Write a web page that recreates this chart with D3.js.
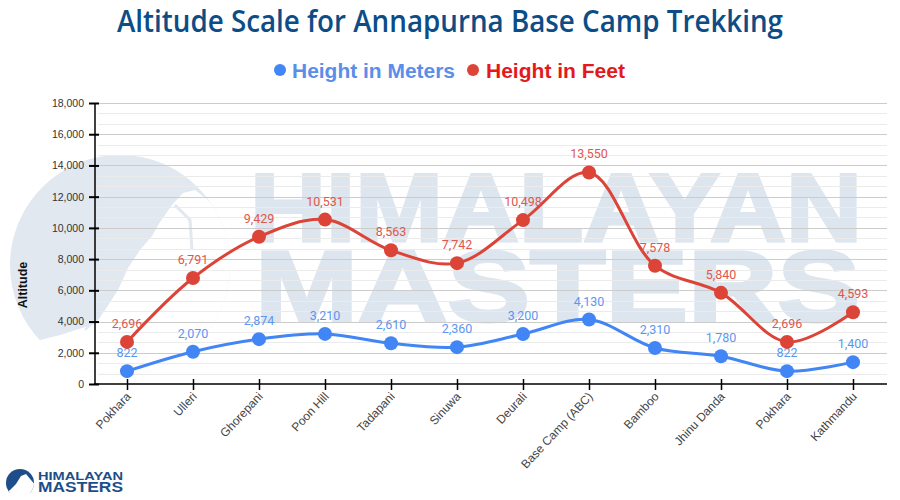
<!DOCTYPE html>
<html>
<head>
<meta charset="utf-8">
<script src="https://cdn.jsdelivr.net/npm/d3@7"></script>
<style>
html,body{margin:0;padding:0;background:#fff;}
svg{display:block;}
</style>
</head>
<body>
<svg id="chart" width="900" height="500"></svg>
<script>
const categories = ["Pokhara","Ulleri","Ghorepani","Poon Hill","Tadapani","Sinuwa","Deurali","Base Camp (ABC)","Bamboo","Jhinu Danda","Pokhara","Kathmandu"];
const meters = [822,2070,2874,3210,2610,2360,3200,4130,2310,1780,822,1400];
const feet = [2696,6791,9429,10531,8563,7742,10498,13550,7578,5840,2696,4593];
const yTicks = [0,2000,4000,6000,8000,10000,12000,14000,16000,18000];
const seriesNames = ["Height in Meters","Height in Feet"];

const svg = d3.select("#chart");
const pL = 94, pR = 886, pT = 103, pB = 384;

const x = d3.scalePoint().domain(d3.range(categories.length)).range([pL, pR]).padding(0.5);
const y = d3.scaleLinear().domain([0, 18000]).range([pB, pT]);
const defs = svg.append("defs");

// watermark circle logo
const wm = svg.append("g");
defs.append("clipPath").attr("id","wmclip").append("circle").attr("cx",120).attr("cy",265).attr("r",110);
const wg = wm.append("g").attr("clip-path","url(#wmclip)");
wg.append("rect").attr("x",0).attr("y",150).attr("width",240).attr("height",240).attr("fill","#e1e8f0");
wg.append("path")
  .attr("d","M0,360 L20,345 L60,335 L95,324 L105,310 L118,290 L128,268 L140,250 L152,236 L160,222 L172,205 L183,193 L195,190 L208,200 L222,215 L240,232 L240,400 L0,400 Z")
  .attr("fill","#ffffff");
wg.append("path").attr("d","M175,205 L190,220 L192,250").attr("stroke","#e1e8f0").attr("stroke-width",3).attr("fill","none");
wg.append("path").attr("d","M85,330 L100,316 L96,300").attr("stroke","#e1e8f0").attr("stroke-width",2).attr("fill","none");

// watermark text
wm.append("text").attr("x",250).attr("y",241).attr("textLength",612).attr("lengthAdjust","spacingAndGlyphs")
  .style("font-family","'Liberation Sans', Arial, sans-serif").style("font-weight","bold").style("font-size","96px")
  .attr("fill","#dde5ee").attr("stroke","#dde5ee").attr("stroke-width",3).text("HIMALAYAN");
wm.append("text").attr("x",255).attr("y",321).attr("textLength",605).attr("lengthAdjust","spacingAndGlyphs")
  .style("font-family","'Liberation Sans', Arial, sans-serif").style("font-weight","bold").style("font-size","100px")
  .attr("fill","#dde5ee").attr("stroke","#dde5ee").attr("stroke-width",3).text("MASTERS");

// gridlines
const minorVals = d3.range(0, 18001, 2000/3).filter(v => Math.abs(v/2000 - Math.round(v/2000)) > 0.01);
svg.append("g").selectAll("line").data(minorVals).join("line")
  .attr("x1", pL+4).attr("x2", pR+1).attr("y1", d => Math.round(y(d))+0.5).attr("y2", d => Math.round(y(d))+0.5)
  .attr("stroke","#ebebeb").attr("stroke-width",1);
svg.append("g").selectAll("line").data(yTicks.slice(1)).join("line")
  .attr("x1", pL+4).attr("x2", pR+1).attr("y1", d => Math.round(y(d))+0.5).attr("y2", d => Math.round(y(d))+0.5)
  .attr("stroke","#cccccc").attr("stroke-width",1);

// y axis
const yAxis = svg.append("g").attr("transform", `translate(${pL+1},0)`)
  .call(d3.axisLeft(y).tickValues(yTicks).tickSize(6).tickFormat(d3.format(",")));
yAxis.select(".domain").attr("stroke","#000").attr("stroke-width",1.5).attr("d",`M0,${pT}V${pB}`);
yAxis.selectAll(".tick line").attr("stroke","#000").attr("stroke-width",2).attr("x1",4).attr("x2",-6);
yAxis.selectAll(".tick text").attr("x",-11).attr("fill","#333").style("font-family","'Liberation Sans', Arial, sans-serif").style("font-size","10.5px");

// x axis
const xAxis = svg.append("g").attr("transform", `translate(0,${pB})`)
  .call(d3.axisBottom(x).tickSize(6).tickFormat(i => categories[i]));
xAxis.select(".domain").attr("stroke","#000").attr("stroke-width",1.5).attr("d",`M${pL},0H${pR+1}`);
xAxis.selectAll(".tick line").attr("stroke","#000").attr("stroke-width",1.5).attr("y1",-5).attr("y2",6);
xAxis.selectAll(".tick text")
  .attr("fill","#444").style("font-family","'Liberation Sans', Arial, sans-serif").style("font-size","12px")
  .attr("text-anchor","end").attr("dy",null).attr("y",0)
  .attr("transform","translate(4,13) rotate(-47)");

// Axis title
svg.append("text").attr("transform","translate(27,285) rotate(-90)").attr("text-anchor","middle")
  .style("font-family","'Liberation Sans', Arial, sans-serif").style("font-weight","bold").style("font-size","12.5px")
  .attr("fill","#111").text("Altitude");

// lines
const series = [
  {name: seriesNames[0], values: meters, color:"#4285f4", label:"#5b97f0"},
  {name: seriesNames[1], values: feet, color:"#db4437", label:"#e0574c"}
];
const line = d3.line().x((d,i)=>x(i)).y(d=>y(d)).curve(d3.curveCatmullRom.alpha(0.5));
series.forEach(s => {
  const g = svg.append("g");
  g.append("path").attr("d", line(s.values)).attr("fill","none").attr("stroke", s.color).attr("stroke-width",3);
  g.selectAll("circle").data(s.values).join("circle")
    .attr("cx",(d,i)=>x(i)).attr("cy",d=>y(d)).attr("r",7).attr("fill",s.color);
  g.selectAll("text").data(s.values).join("text")
    .attr("x",(d,i)=>x(i)).attr("y",d=>y(d)-14).attr("text-anchor","middle")
    .style("font-family","Roboto, 'Liberation Sans', sans-serif").style("font-size","12.5px")
    .attr("fill", s.label).text(d => d3.format(",")(d));
});

// title
svg.append("text").attr("x",450).attr("y",32).attr("text-anchor","middle")
  .attr("textLength",666).attr("lengthAdjust","spacingAndGlyphs")
  .style("font-family","'Open Sans', sans-serif").style("font-weight","600").style("font-size","30px")
  .attr("fill","#0d4d87").text("Altitude Scale for Annapurna Base Camp Trekking");

// legend
const lg = svg.append("g").style("font-family","'Liberation Sans', Arial, sans-serif").style("font-weight","bold").style("font-size","21px");
lg.append("circle").attr("cx",280).attr("cy",70).attr("r",6).attr("fill","#4285f4");
lg.append("text").attr("x",292).attr("y",78).attr("textLength",163).attr("lengthAdjust","spacingAndGlyphs").attr("fill","#5b8ee8").text(seriesNames[0]);
lg.append("circle").attr("cx",473).attr("cy",70).attr("r",6).attr("fill","#db4437");
lg.append("text").attr("x",486).attr("y",78).attr("textLength",139).attr("lengthAdjust","spacingAndGlyphs").attr("fill","#e5191c").text(seriesNames[1]);

// bottom logo
const logo = svg.append("g");
defs.append("clipPath").attr("id","logoclip").append("circle").attr("cx",20).attr("cy",483).attr("r",14);
const lgg = logo.append("g").attr("clip-path","url(#logoclip)");
lgg.append("rect").attr("x",0).attr("y",465).attr("width",40).attr("height",30).attr("fill","#1d4e89");
lgg.append("path").attr("d","M4,495 L10,490 L16,484 L21,476 L26,474 L31,480 L36,486 L36,500 L4,500 Z").attr("fill","#fff");
logo.append("rect").attr("x",0).attr("y",493).attr("width",40).attr("height",7).attr("fill","#fff");
logo.append("text").attr("x",38).attr("y",480).attr("textLength",85).attr("lengthAdjust","spacingAndGlyphs")
  .style("font-family","'Liberation Sans', Arial, sans-serif").style("font-weight","bold").style("font-size","11px")
  .attr("fill","#1d4e89").text("HIMALAYAN");
logo.append("text").attr("x",38).attr("y",492).attr("textLength",85).attr("lengthAdjust","spacingAndGlyphs")
  .style("font-family","'Liberation Sans', Arial, sans-serif").style("font-weight","bold").style("font-size","14px")
  .attr("fill","#1d4e89").text("MASTERS");
</script>
</body>
</html>
